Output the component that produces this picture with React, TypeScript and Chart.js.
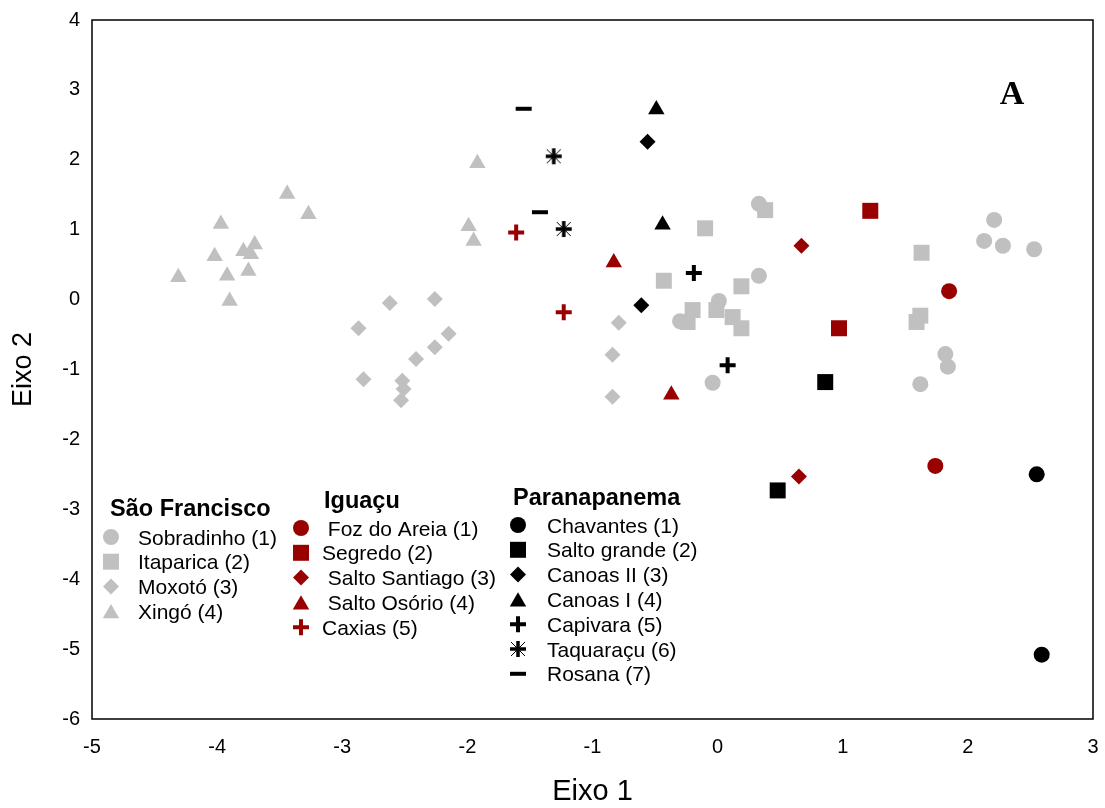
import React, { useEffect, useRef } from 'react';
import { Chart, registerables } from 'chart.js';

Chart.register(...registerables);

// ---------- data ----------
const xMin = -5, xMax = 3, yMin = -6, yMax = 4;
const xTitle = 'Eixo 1';
const yTitle = 'Eixo 2';
const panelLabel = 'A';

const groupTitles = ['São Francisco', 'Iguaçu', 'Paranapanema'];

// São Francisco
const sobradinhoX = [0.33, 0.33, 0.01, -0.30, -0.04, 2.21, 2.13, 2.28, 2.53, 1.82, 1.84, 1.62];
const sobradinhoY = [1.37, 0.34, -0.02, -0.31, -1.19, 1.14, 0.84, 0.77, 0.72, -0.78, -0.96, -1.21];
const itaparicaX = [-0.10, 0.38, -0.43, 0.19, -0.20, -0.24, -0.01, 0.12, 0.19, 1.63, 1.62, 1.59];
const itaparicaY = [1.02, 1.28, 0.27, 0.19, -0.15, -0.32, -0.15, -0.25, -0.41, 0.67, -0.23, -0.32];
const moxotoX = [-2.62, -2.26, -2.87, -2.15, -2.26, -2.41, -2.83, -2.52, -2.51, -2.53, -0.79, -0.84, -0.84];
const moxotoY = [-0.05, 0.01, -0.41, -0.49, -0.68, -0.85, -1.14, -1.16, -1.28, -1.44, -0.33, -0.79, -1.39];
const xingoX = [-1.92, -3.44, -3.27, -3.97, -4.02, -3.79, -3.70, -3.73, -3.75, -3.92, -4.31, -3.90, -1.99, -1.95];
const xingoY = [1.95, 1.51, 1.22, 1.08, 0.62, 0.69, 0.79, 0.65, 0.41, 0.34, 0.32, -0.02, 1.05, 0.84];

// Iguaçu
const fozX = [1.85, 1.74];
const fozY = [0.12, -2.38];
const segredoX = [1.22, 0.97];
const segredoY = [1.27, -0.41];
const santiagoX = [0.67, 0.65];
const santiagoY = [0.77, -2.53];
const osorioX = [-0.83, -0.37];
const osorioY = [0.53, -1.36];
const caxiasX = [-1.61, -1.23];
const caxiasY = [0.96, -0.18];

// Paranapanema
const chavantesX = [2.55, 2.59];
const chavantesY = [-2.50, -5.08];
const saltoGrandeX = [0.86, 0.48];
const saltoGrandeY = [-1.18, -2.73];
const canoas2X = [-0.56, -0.61];
const canoas2Y = [2.26, -0.08];
const canoas1X = [-0.49, -0.44];
const canoas1Y = [2.72, 1.07];
const capivaraX = [-0.19, 0.08];
const capivaraY = [0.38, -0.94];
const taquaracuX = [-1.31, -1.23];
const taquaracuY = [2.05, 1.01];
const rosanaX = [-1.55, -1.42];
const rosanaY = [2.73, 1.25];

// ---------- styles ----------
const GRAY = '#C0C0C0';
const RED = '#990000';
const BLACK = '#000000';
const FONT = "'Liberation Sans', Arial, sans-serif";

type Series = { name: string; group: number; color: string; shape: string; xs: number[]; ys: number[] };

const series: Series[] = [
  { name: 'Sobradinho (1)', group: 0, color: GRAY, shape: 'circle', xs: sobradinhoX, ys: sobradinhoY },
  { name: 'Itaparica (2)', group: 0, color: GRAY, shape: 'rect', xs: itaparicaX, ys: itaparicaY },
  { name: 'Moxotó (3)', group: 0, color: GRAY, shape: 'rectRot', xs: moxotoX, ys: moxotoY },
  { name: 'Xingó (4)', group: 0, color: GRAY, shape: 'triangle', xs: xingoX, ys: xingoY },
  { name: ' Foz do Areia (1)', group: 1, color: RED, shape: 'circle', xs: fozX, ys: fozY },
  { name: 'Segredo (2)', group: 1, color: RED, shape: 'rect', xs: segredoX, ys: segredoY },
  { name: ' Salto Santiago (3)', group: 1, color: RED, shape: 'rectRot', xs: santiagoX, ys: santiagoY },
  { name: ' Salto Osório (4)', group: 1, color: RED, shape: 'triangle', xs: osorioX, ys: osorioY },
  { name: 'Caxias (5)', group: 1, color: RED, shape: 'cross', xs: caxiasX, ys: caxiasY },
  { name: 'Chavantes (1)', group: 2, color: BLACK, shape: 'circle', xs: chavantesX, ys: chavantesY },
  { name: 'Salto grande (2)', group: 2, color: BLACK, shape: 'rect', xs: saltoGrandeX, ys: saltoGrandeY },
  { name: 'Canoas II (3)', group: 2, color: BLACK, shape: 'rectRot', xs: canoas2X, ys: canoas2Y },
  { name: 'Canoas I (4)', group: 2, color: BLACK, shape: 'triangle', xs: canoas1X, ys: canoas1Y },
  { name: 'Capivara (5)', group: 2, color: BLACK, shape: 'cross', xs: capivaraX, ys: capivaraY },
  { name: 'Taquaraçu (6)', group: 2, color: BLACK, shape: 'star', xs: taquaracuX, ys: taquaracuY },
  { name: 'Rosana (7)', group: 2, color: BLACK, shape: 'line', xs: rosanaX, ys: rosanaY },
];

const radiusFor: Record<string, number> = {
  circle: 8, rect: 11.3, rectRot: 8, triangle: 9.5, cross: 8, line: 8, star: 9,
};

// legend layout (pixels)
const legendLayout = [
  { titleX: 110, titleY: 516, markerX: 111, textX: 138, rowY: 537, step: 24.7 },
  { titleX: 324, titleY: 508, markerX: 301, textX: 322, rowY: 528, step: 24.8 },
  { titleX: 513, titleY: 505, markerX: 518, textX: 547, rowY: 525, step: 24.8 },
];

function makeStar(): HTMLCanvasElement {
  const c = document.createElement('canvas');
  c.width = 20; c.height = 20;
  const g = c.getContext('2d')!;
  g.strokeStyle = BLACK;
  g.lineWidth = 1;
  g.beginPath();
  g.moveTo(3, 3); g.lineTo(17, 17);
  g.moveTo(17, 3); g.lineTo(3, 17);
  g.stroke();
  g.lineWidth = 3.5;
  g.beginPath();
  g.moveTo(10, 2); g.lineTo(10, 18);
  g.moveTo(2, 10); g.lineTo(18, 10);
  g.stroke();
  return c;
}

function drawMarker(ctx: CanvasRenderingContext2D, shape: string, x: number, y: number, color: string, star: HTMLCanvasElement) {
  const r = radiusFor[shape];
  ctx.save();
  ctx.fillStyle = color;
  ctx.strokeStyle = color;
  ctx.beginPath();
  switch (shape) {
    case 'circle':
      ctx.arc(x, y, r, 0, Math.PI * 2);
      ctx.fill();
      break;
    case 'rect': {
      const s = r * Math.SQRT1_2;
      ctx.fillRect(x - s, y - s, 2 * s, 2 * s);
      break;
    }
    case 'rectRot':
      ctx.moveTo(x, y - r); ctx.lineTo(x + r, y); ctx.lineTo(x, y + r); ctx.lineTo(x - r, y);
      ctx.closePath(); ctx.fill();
      break;
    case 'triangle': {
      const yy = y + r * 0.25;
      ctx.moveTo(x, yy - r); ctx.lineTo(x + r * 0.866, yy + r * 0.5); ctx.lineTo(x - r * 0.866, yy + r * 0.5);
      ctx.closePath(); ctx.fill();
      break;
    }
    case 'cross':
      ctx.lineWidth = 4;
      ctx.moveTo(x, y - r); ctx.lineTo(x, y + r);
      ctx.moveTo(x - r, y); ctx.lineTo(x + r, y);
      ctx.stroke();
      break;
    case 'line':
      ctx.lineWidth = 4;
      ctx.moveTo(x - r, y); ctx.lineTo(x + r, y);
      ctx.stroke();
      break;
    case 'star':
      ctx.drawImage(star, x - star.width / 2, y - star.height / 2);
      break;
  }
  ctx.restore();
}

export default function App() {
  const ref = useRef<HTMLCanvasElement | null>(null);

  useEffect(() => {
    document.body.style.margin = '0';
    const star = makeStar();
    const overlay = {
      id: 'overlay',
      afterDraw(chart: any) {
        const ctx: CanvasRenderingContext2D = chart.ctx;
        const a = chart.chartArea;
        ctx.save();
        ctx.strokeStyle = BLACK;
        ctx.lineWidth = 1.5;
        ctx.strokeRect(a.left, a.top, a.right - a.left, a.bottom - a.top);

        // panel label
        ctx.fillStyle = BLACK;
        ctx.font = "bold 34px 'Liberation Serif', 'Times New Roman', serif";
        ctx.textAlign = 'center';
        ctx.textBaseline = 'alphabetic';
        ctx.fillText(panelLabel, 1012, 104);

        // legend
        groupTitles.forEach((t, gi) => {
          const L = legendLayout[gi];
          ctx.fillStyle = BLACK;
          ctx.textAlign = 'left';
          ctx.font = `bold 23.5px ${FONT}`;
          ctx.fillText(t, L.titleX, L.titleY);
          const items = series.filter((s) => s.group === gi);
          items.forEach((s, k) => {
            const cy = L.rowY + k * L.step;
            drawMarker(ctx, s.shape, L.markerX, cy, s.color, star);
            ctx.fillStyle = BLACK;
            ctx.font = `21px ${FONT}`;
            ctx.fillText(s.name, L.textX, cy + 7.5);
          });
        });
        ctx.restore();
      },
    };

    const datasets = series.map((s, i) => ({
      label: s.name.trim(),
      data: s.xs.map((x, j) => ({ x, y: s.ys[j] })),
      pointStyle: s.shape === 'star' ? star : s.shape,
      pointRadius: radiusFor[s.shape],
      pointHoverRadius: radiusFor[s.shape],
      backgroundColor: s.color,
      borderColor: s.color,
      pointBorderWidth: s.shape === 'cross' || s.shape === 'line' ? 4 : 0,
      borderWidth: s.shape === 'cross' || s.shape === 'line' ? 4 : 0,
      showLine: false,
      clip: false,
      order: series.length - i,
    }));

    const chart = new Chart(ref.current!, {
      type: 'scatter',
      data: { datasets },
      plugins: [overlay],
      options: {
        responsive: false,
        animation: false,
        events: [],
        layout: { autoPadding: false, padding: { top: 20, right: 12, left: 0, bottom: 0 } },
        plugins: { legend: { display: false }, tooltip: { enabled: false } },
        scales: {
          x: {
            type: 'linear', min: xMin, max: xMax,
            grid: { display: false, drawTicks: false },
            border: { display: false },
            ticks: { stepSize: 1, color: BLACK, font: { family: FONT, size: 20 }, padding: 16 },
            title: { display: true, text: xTitle, color: BLACK, font: { family: FONT, size: 29, lineHeight: 1.1 }, padding: 0 },
            afterFit: (s: any) => { s.height = 89; s.paddingLeft = 0; s.paddingRight = 0; },
          },
          y: {
            type: 'linear', min: yMin, max: yMax,
            grid: { display: false, drawTicks: false },
            border: { display: false },
            ticks: { stepSize: 1, color: BLACK, font: { family: FONT, size: 20 }, padding: 12 },
            title: { display: true, text: yTitle, color: BLACK, font: { family: FONT, size: 27 }, padding: { top: 7, bottom: 0 } },
            afterFit: (s: any) => { s.width = 92; s.paddingTop = 0; s.paddingBottom = 0; },
          },
        },
      },
    } as any);
    return () => chart.destroy();
  }, []);

  return (
    <div style={{ width: 1105, height: 808 }}>
      <canvas ref={ref} width={1105} height={808} style={{ display: 'block' }} />
    </div>
  );
}
